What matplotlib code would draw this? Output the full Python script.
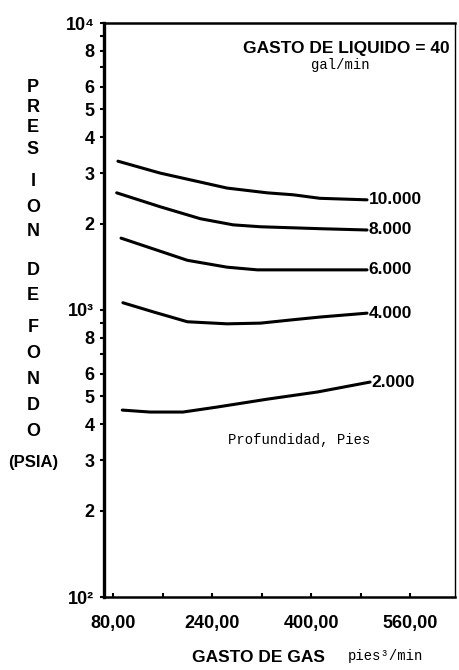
import matplotlib
matplotlib.use("Agg")
import matplotlib.pyplot as plt
from matplotlib.ticker import FixedLocator, NullFormatter

# ---- data ----
depth_labels = ["10.000", "8.000", "6.000", "4.000", "2.000"]
gas_10000 = [88, 156, 264, 329, 371, 414, 490]
pres_10000 = [3300, 3000, 2660, 2560, 2520, 2450, 2420]
gas_8000 = [86, 156, 221, 274, 318, 414, 490]
pres_8000 = [2560, 2290, 2080, 1980, 1950, 1920, 1900]
gas_6000 = [93, 135, 200, 264, 313, 414, 490]
pres_6000 = [1780, 1660, 1490, 1410, 1380, 1380, 1380]
gas_4000 = [96, 145, 200, 264, 318, 371, 414, 490]
pres_4000 = [1060, 985, 910, 895, 900, 925, 945, 975]
gas_2000 = [95, 140, 193, 248, 329, 410, 495]
pres_2000 = [448, 441, 441, 459, 489, 518, 561]

ytick_vals = [100, 200, 300, 400, 500, 600, 800, 1000, 2000, 3000, 4000, 5000,
              6000, 8000, 10000]
ytick_labels = ["10²", "2", "3", "4", "5", "6", "8", "10³", "2", "3", "4", "5",
                "6", "8", "10⁴"]
yminor_vals = [700, 900, 7000, 9000]
xtick_vals = [80, 160, 240, 320, 400, 480, 560]
xtick_labels = ["80,00", "", "240,00", "", "400,00", "", "560,00"]
ylabel_letters = ["P", "R", "E", "S", "I", "O", "N", "D", "E", "F", "O", "N", "D", "O"]

BOLD = ["Liberation Sans", "DejaVu Sans"]
MONO = ["Liberation Mono", "DejaVu Sans Mono"]

W, H = 460, 670
fig = plt.figure(figsize=(W / 100, H / 100), dpi=100)
ax = fig.add_axes([104 / W, 1 - 597 / H, (455 - 104) / W, (597 - 23) / H])
ax.set_yscale("log")
ax.set_ylim(100, 10000)
ax.set_xlim(65.5, 632)

series = [(gas_10000, pres_10000), (gas_8000, pres_8000), (gas_6000, pres_6000),
          (gas_4000, pres_4000), (gas_2000, pres_2000)]
for (gx, py), lab in zip(series, depth_labels):
    ax.plot(gx, py, color="black", lw=2.2, solid_capstyle="round",
            solid_joinstyle="round")
    ax.annotate(lab, xy=(gx[-1], py[-1]), xytext=(1, 0), textcoords="offset points",
                ha="left", va="center", fontsize=12.5, fontweight="bold",
                family=BOLD)

ax.yaxis.set_major_locator(FixedLocator(ytick_vals))
ax.yaxis.set_minor_locator(FixedLocator(yminor_vals))
ax.yaxis.set_minor_formatter(NullFormatter())
ax.set_yticklabels(ytick_labels, fontsize=13, fontweight="bold", family=BOLD)
ax.xaxis.set_major_locator(FixedLocator(xtick_vals))
ax.set_xticklabels(xtick_labels, fontsize=13, fontweight="bold", family=BOLD)
ax.tick_params(axis="y", which="both", direction="out", length=3, width=1.5, pad=4)
ax.tick_params(axis="x", which="both", direction="in", length=3, width=1.5, pad=13)

ax.spines["left"].set_linewidth(2.4)
ax.spines["bottom"].set_linewidth(1.8)
ax.spines["top"].set_linewidth(1.8)
ax.spines["right"].set_linewidth(1.0)

# annotations inside
fig.text(346 / W, 1 - 49 / H, "GASTO DE LIQUIDO = 40", ha="center", va="center",
         fontsize=12.5, fontweight="bold", family=BOLD)
fig.text(340 / W, 1 - 65 / H, "gal/min", ha="center", va="center",
         fontsize=10, family=MONO)
fig.text(228 / W, 1 - 440 / H, "Profundidad, Pies", ha="left", va="center",
         fontsize=10, family=MONO)

# vertical y label
letter_y = [88, 108, 128, 150, 182, 207, 232, 270, 295, 327, 353, 379, 405, 432]
for ch, yy in zip(ylabel_letters, letter_y):
    fig.text(33 / W, 1 - yy / H, ch, ha="center", va="center", fontsize=13,
             fontweight="bold", family=BOLD)
fig.text(33 / W, 1 - 462 / H, "(PSIA)", ha="center", va="center", fontsize=12,
         fontweight="bold", family=BOLD)

# x label
fig.text(258 / W, 1 - 657 / H, "GASTO DE GAS", ha="center", va="center",
         fontsize=12.5, fontweight="bold", family=BOLD)
fig.text(348 / W, 1 - 656 / H, "pies³/min", ha="left", va="center",
         fontsize=10, family=MONO)

fig.savefig("out.png", dpi=100)
